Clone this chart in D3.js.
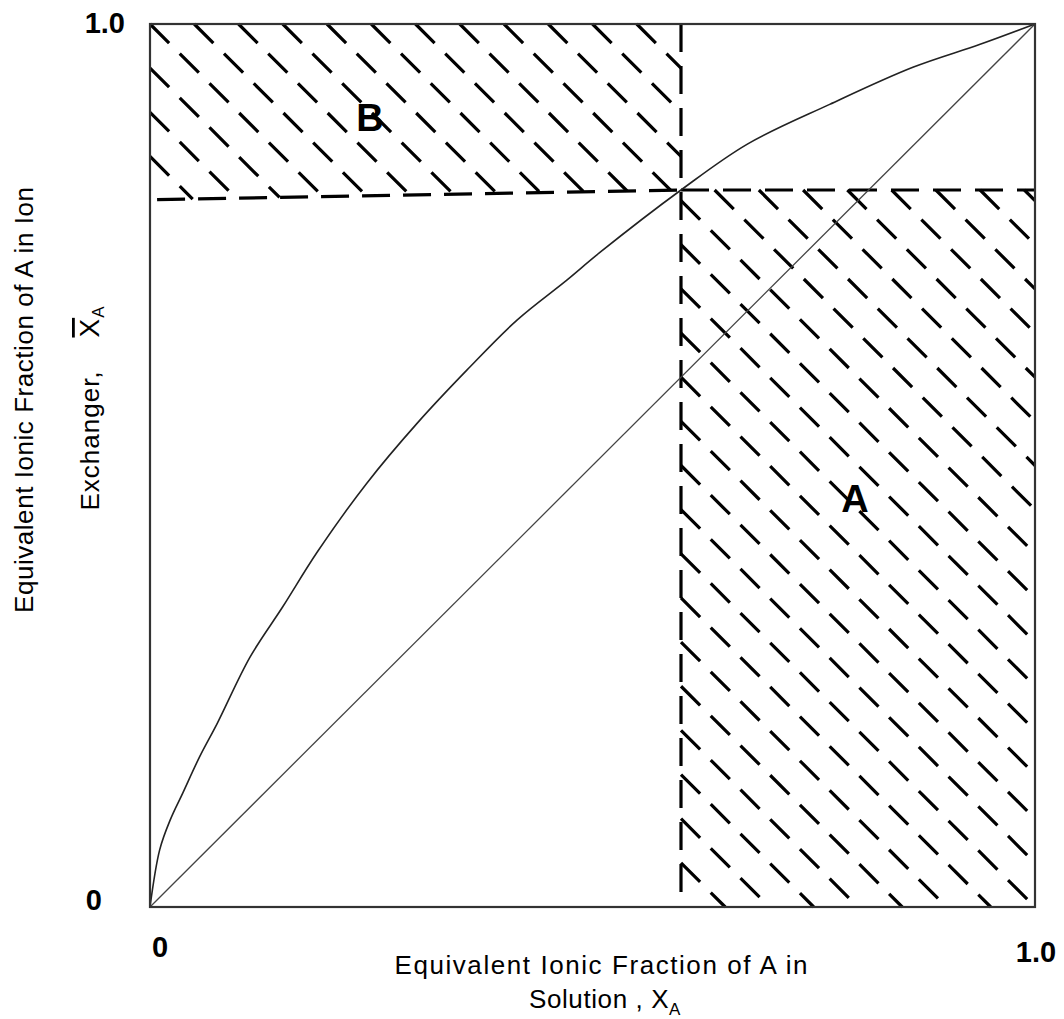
<!DOCTYPE html>
<html>
<head>
<meta charset="utf-8">
<script src="https://cdn.jsdelivr.net/npm/d3@7"></script>
<style>
  body { margin: 0; background: #fff; }
  text { font-family: "Liberation Sans", Arial, sans-serif; fill: #000; }
</style>
</head>
<body>
<script>
// isotherm curve (x = fraction in solution, y = fraction in exchanger)
const curveX = [0, 0.011, 0.023, 0.037, 0.056, 0.076, 0.113, 0.150, 0.189, 0.245, 0.302, 0.358, 0.415, 0.471, 0.508, 0.600, 0.675, 0.768, 0.862, 0.938, 1];
const curveY = [0, 0.065, 0.099, 0.129, 0.170, 0.208, 0.283, 0.340, 0.402, 0.480, 0.548, 0.608, 0.665, 0.710, 0.741, 0.812, 0.864, 0.909, 0.951, 0.977, 1];

// the 45 degree line
const diagX = [0, 1];
const diagY = [0, 1];

// dashed borders of the hatched areas
const splitX = 0.6;          // vertical dashed line
const splitY = 0.812;        // top of area A
const bEdgeX = [0.008, 0.6]; // bottom of area B
const bEdgeY = [0.801, 0.812];

const tickValues = [0, 1];
const tickLabels = ["0", "1.0"];

const W = 1064, H = 1019;

const svg = d3.select("body").append("svg")
    .attr("width", W)
    .attr("height", H);

const x = d3.scaleLinear().domain([0, 1]).range([150, 1035]);
const y = d3.scaleLinear().domain([0, 1]).range([907, 24]);

// hatching: lines x + y = c, one every 1/20
const hatchC = d3.range(1, 41).map(k => k / 20);
const g = svg.append("g");

function hatch(x0, x1, c) {
  if (x1 - x0 < 0.002) return;
  g.append("line")
    .attr("x1", x(x0)).attr("y1", y(c - x0))
    .attr("x2", x(x1)).attr("y2", y(c - x1))
    .attr("stroke", "#000")
    .attr("stroke-width", 3.2)
    .attr("stroke-dasharray", "27,15");
}

// area A : x in [splitX,1], y in [0, splitY]
hatchC.forEach(c => {
  hatch(Math.max(splitX, c - splitY), Math.min(1, c), c);
});

// area B : x in [0, splitX], y from the bottom edge up to 1
const slope = (bEdgeY[1] - bEdgeY[0]) / (bEdgeX[1] - bEdgeX[0]);
const b0 = bEdgeY[0] - slope * bEdgeX[0];
hatchC.forEach(c => {
  hatch(Math.max(0, c - 1), Math.min(splitX, (c - b0) / (1 + slope)), c);
});

// dashed borders
svg.append("line")
    .attr("x1", x(splitX)).attr("y1", y(1))
    .attr("x2", x(splitX)).attr("y2", y(0))
    .attr("stroke", "#000").attr("stroke-width", 3.2)
    .attr("stroke-dasharray", "28,14");

svg.append("line")
    .attr("x1", x(splitX)).attr("y1", y(splitY))
    .attr("x2", x(1)).attr("y2", y(splitY))
    .attr("stroke", "#000").attr("stroke-width", 3.2)
    .attr("stroke-dasharray", "28,14");

svg.append("line")
    .attr("x1", x(bEdgeX[0])).attr("y1", y(bEdgeY[0]))
    .attr("x2", x(bEdgeX[1])).attr("y2", y(bEdgeY[1]))
    .attr("stroke", "#000").attr("stroke-width", 3.2)
    .attr("stroke-dasharray", "28,13");

// diagonal and curve
const line = d3.line().x(d => x(d[0])).y(d => y(d[1]));

svg.append("path")
    .datum(d3.zip(diagX, diagY))
    .attr("d", line)
    .attr("fill", "none")
    .attr("stroke", "#444")
    .attr("stroke-width", 1.3);

svg.append("path")
    .datum(d3.zip(curveX, curveY))
    .attr("d", line.curve(d3.curveCatmullRom.alpha(0.5)))
    .attr("fill", "none")
    .attr("stroke", "#222")
    .attr("stroke-width", 1.6);

// frame
svg.append("rect")
    .attr("x", x(0)).attr("y", y(1))
    .attr("width", x(1) - x(0))
    .attr("height", y(0) - y(1))
    .attr("fill", "none")
    .attr("stroke", "#333")
    .attr("stroke-width", 2.2);

// tick labels
svg.selectAll(".xt").data(tickValues).join("text")
    .attr("class", "xt")
    .attr("x", (d, i) => i === 0 ? 160 : 1036)
    .attr("y", (d, i) => i === 0 ? 957 : 962)
    .attr("text-anchor", "middle")
    .style("font-size", "29px")
    .style("font-weight", "bold")
    .text((d, i) => tickLabels[i]);

svg.selectAll(".yt").data(tickValues).join("text")
    .attr("class", "yt")
    .attr("x", (d, i) => i === 0 ? 102 : 125)
    .attr("y", (d, i) => i === 0 ? 910 : 33)
    .attr("text-anchor", "end")
    .style("font-size", "29px")
    .style("font-weight", "bold")
    .text((d, i) => tickLabels[i]);

// area labels
svg.append("text")
    .attr("x", 370).attr("y", 131)
    .attr("text-anchor", "middle")
    .style("font-size", "38px").style("font-weight", "bold")
    .text("B");

svg.append("text")
    .attr("x", 855).attr("y", 512)
    .attr("text-anchor", "middle")
    .style("font-size", "38px").style("font-weight", "bold")
    .text("A");

// x axis title
svg.append("text")
    .attr("x", 601).attr("y", 974)
    .attr("text-anchor", "middle")
    .attr("textLength", 413)
    .style("font-size", "26px")
    .text("Equivalent Ionic Fraction of A in");

const xt2 = svg.append("text")
    .attr("x", 605).attr("y", 1008)
    .attr("text-anchor", "middle")
    .style("font-size", "26px")
    .style("letter-spacing", "0.6px");
xt2.append("tspan").text("Solution , X");
xt2.append("tspan").attr("dy", 7).style("font-size", "17px").text("A");

// y axis title
svg.append("text")
    .attr("transform", "translate(33,400) rotate(-90)")
    .attr("text-anchor", "middle")
    .attr("textLength", 426)
    .style("font-size", "26px")
    .text("Equivalent Ionic Fraction of A in Ion");

const yt2 = svg.append("text")
    .attr("transform", "translate(99,408) rotate(-90)")
    .attr("text-anchor", "middle")
    .style("font-size", "26px")
    .style("letter-spacing", "1px")
    .style("white-space", "pre");
yt2.append("tspan").text("Exchanger,    ");
yt2.append("tspan").style("text-decoration", "overline").style("font-size", "28px").text("X");
yt2.append("tspan").attr("dy", 5).style("font-size", "17px").text("A");
</script>
</body>
</html>
